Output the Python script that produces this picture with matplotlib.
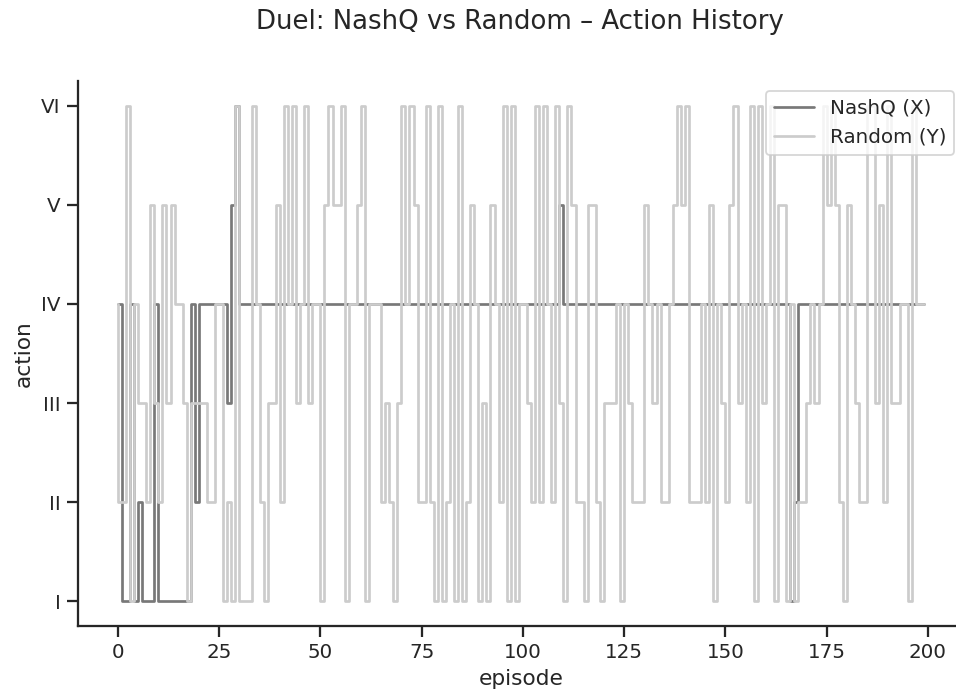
import numpy as np
import matplotlib
matplotlib.use("Agg")
import matplotlib.pyplot as plt
import seaborn as sns

# action history per episode (1 = I ... 6 = VI)
nashq_actions = [
    4, 4, 1, 1, 4, 1, 2, 1, 1, 1, 4, 1, 1, 1, 1, 1, 1, 1, 1, 4,
    2, 4, 4, 4, 4, 4, 4, 4, 3, 5, 6, 4, 4, 4, 4, 4, 4, 4, 4, 4,
    4, 4, 4, 4, 4, 4, 4, 4, 4, 4, 4, 4, 4, 4, 4, 4, 4, 4, 4, 4,
    4, 4, 4, 4, 4, 4, 4, 4, 4, 4, 4, 4, 4, 4, 4, 4, 4, 4, 4, 4,
    4, 4, 4, 4, 4, 4, 4, 4, 4, 4, 4, 4, 4, 4, 4, 4, 4, 4, 4, 4,
    4, 4, 4, 4, 4, 4, 4, 4, 4, 4, 5, 4, 4, 4, 4, 4, 4, 4, 4, 4,
    4, 4, 4, 4, 4, 4, 4, 4, 4, 4, 4, 4, 4, 4, 4, 4, 4, 4, 4, 4,
    4, 4, 4, 4, 4, 4, 4, 4, 4, 4, 4, 4, 4, 4, 4, 4, 4, 4, 4, 4,
    4, 4, 4, 4, 4, 4, 4, 1, 2, 4, 4, 4, 4, 4, 4, 4, 4, 4, 4, 4,
    4, 4, 4, 4, 4, 4, 4, 4, 4, 4, 4, 4, 4, 4, 4, 4, 4, 4, 4, 4,
]
random_actions = [
    4, 2, 2, 6, 1, 4, 3, 3, 2, 5, 3, 2, 5, 3, 5, 4, 4, 3, 1, 3,
    3, 3, 3, 2, 2, 4, 4, 1, 2, 1, 6, 1, 1, 1, 6, 4, 2, 1, 3, 3,
    5, 2, 6, 4, 6, 3, 4, 6, 3, 4, 4, 1, 5, 6, 5, 5, 6, 1, 4, 4,
    5, 6, 1, 4, 4, 4, 2, 3, 2, 1, 3, 6, 4, 6, 5, 2, 2, 6, 2, 1,
    6, 1, 2, 4, 1, 6, 1, 2, 5, 4, 1, 3, 1, 5, 4, 2, 6, 1, 6, 1,
    4, 4, 3, 2, 6, 2, 6, 4, 2, 6, 3, 1, 6, 5, 2, 2, 1, 5, 5, 2,
    1, 3, 3, 3, 4, 1, 4, 3, 2, 2, 2, 5, 4, 3, 4, 2, 2, 4, 5, 6,
    5, 6, 2, 2, 2, 4, 2, 5, 1, 4, 3, 2, 5, 6, 3, 4, 2, 6, 1, 6,
    3, 4, 6, 1, 5, 5, 1, 4, 1, 2, 2, 3, 4, 3, 4, 6, 5, 6, 5, 2,
    1, 5, 4, 3, 2, 2, 6, 6, 3, 5, 2, 6, 3, 3, 4, 4, 1, 6, 4, 4,
]
action_labels = ["I", "II", "III", "IV", "V", "VI"]
episodes = np.arange(len(nashq_actions))

sns.set_theme(style="ticks", context="notebook")
plt.rcParams['font.family'] = ['DejaVu Sans']

W, H = 956, 692
fig = plt.figure(figsize=(W / 130, H / 130), dpi=130)
# axes runs a bit past the right edge, like the cropped original
ax = fig.add_axes([77.6 / W, 66 / H, 886.5 / W, 545 / H])

ax.step(episodes, nashq_actions, color="0.47", label="NashQ (X)")
ax.step(episodes, random_actions, color="0.8", label="Random (Y)")

ax.set_yticks(range(1, 7))
ax.set_yticklabels(action_labels)
ax.set_xticks([0, 25, 50, 75, 100, 125, 150, 175, 200])
ax.set_xlim(-9.95, 208.95)
ax.set_ylim(0.75, 6.25)
ax.set_xlabel("episode")
ax.set_ylabel("action")
ax.legend(loc="upper right")
sns.despine(ax=ax)

fig.suptitle("Duel: NashQ vs Random \u2013 Action History",
             x=520 / W, y=1 - 22 / H, va="center")
fig.savefig("out.png", dpi=130)
